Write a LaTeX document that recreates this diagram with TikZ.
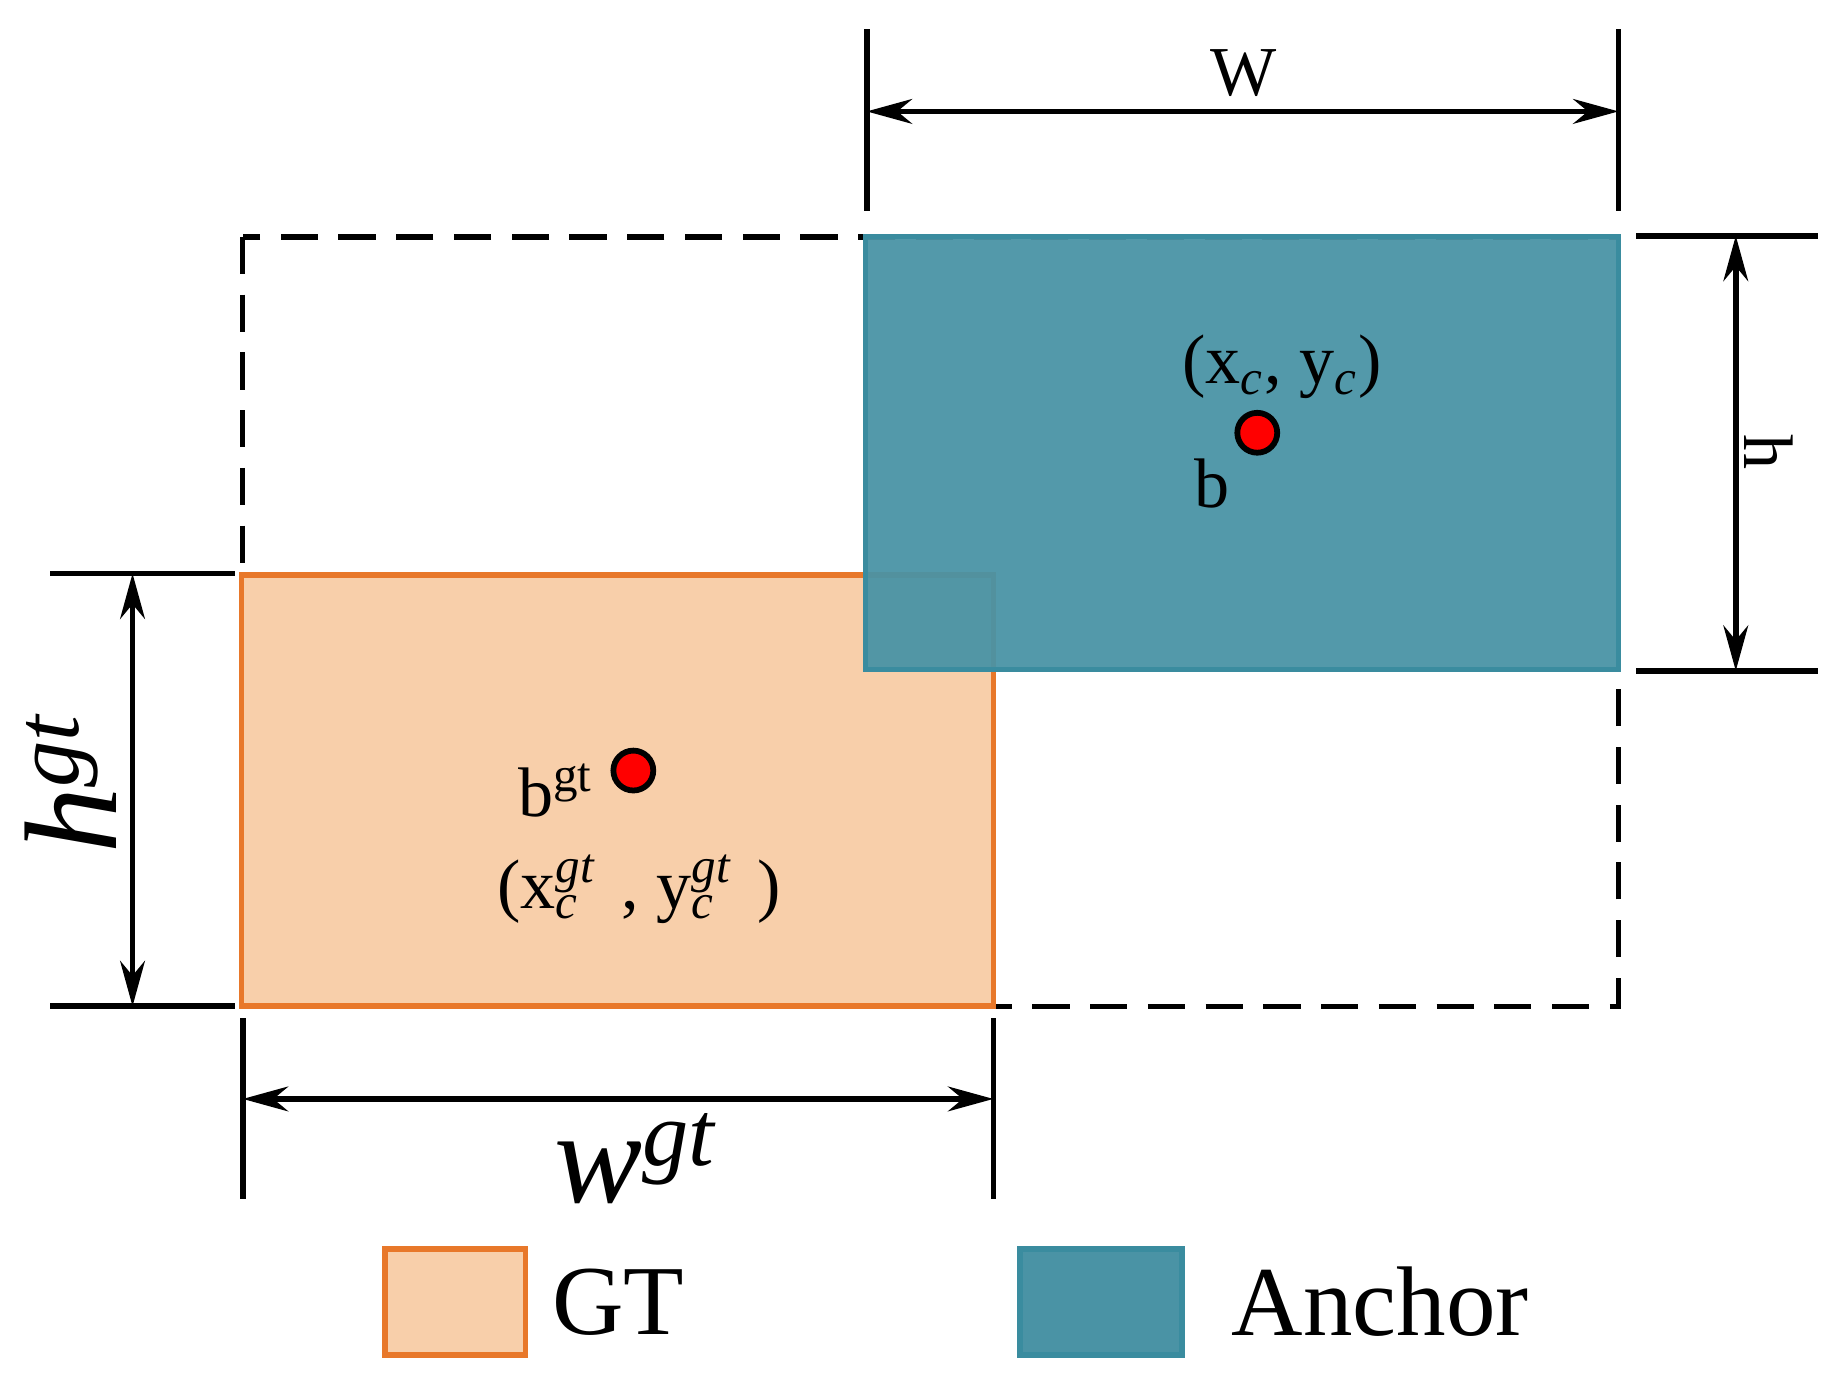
\documentclass[tikz,border=0pt]{standalone}
\usepackage{fontspec}
\setmainfont{Liberation Serif}
\usetikzlibrary{arrows.meta}
\definecolor{gtfill}{HTML}{F8CFAA}
\definecolor{gtedge}{HTML}{E8782A}
\definecolor{anfill}{HTML}{4A93A5}
\definecolor{anedge}{HTML}{3A8C9F}
\newcommand{\subsup}[2]{\rlap{\textsuperscript{#2}}\textsubscript{#1}}
\begin{document}
\begin{tikzpicture}[x=0.01cm,y=-0.01cm,
  dim/.style={line width=1.4pt},
  arr/.style={line width=1.4pt,{Stealth[length=11pt,width=6pt]}-{Stealth[length=11pt,width=6pt]}},
  dot/.style={circle,fill=red,draw=black,line width=1.4pt,minimum size=0.34cm,inner sep=0pt},
  lbl/.style={font=\fontsize{17}{20}\selectfont,inner sep=0pt}]
\useasboundingbox (0,0) rectangle (1568,1176);
\draw[line width=1.3pt,dash pattern=on 9pt off 5pt] (207,202) rectangle (1380,858);
\draw[fill=gtfill,draw=gtedge,line width=1.4pt] (206,490) rectangle (847,858);
\draw[fill=anfill,draw=anedge,line width=1.2pt,fill opacity=0.95] (738,202) rectangle (1380,571);
% W dimension
\coordinate (w1) at (739,25); \coordinate (w1b) at (739,180);
\coordinate (w2) at (1380,25); \coordinate (w2b) at (1380,180);
\draw[dim] (w1)--(w1b); \draw[dim] (w2)--(w2b);
\coordinate (wa) at (739,95); \coordinate (wb) at (1380,95);
\draw[arr] (wa)--(wb);
\node[lbl] (W) at (1060,62) {W};
% h dimension
\coordinate (h1) at (1395,201); \coordinate (h1b) at (1550,201);
\coordinate (h2) at (1395,572); \coordinate (h2b) at (1550,572);
\draw[dim] (h1)--(h1b); \draw[dim] (h2)--(h2b);
\coordinate (ha) at (1480,201); \coordinate (hb) at (1480,572);
\draw[arr] (ha)--(hb);
\node[lbl,rotate=-90] (H) at (1508,385) {h};
% hgt dimension
\coordinate (g1) at (43,489); \coordinate (g1b) at (200,489);
\coordinate (g2) at (43,858); \coordinate (g2b) at (200,858);
\draw[dim] (g1)--(g1b); \draw[dim] (g2)--(g2b);
\coordinate (ga) at (113,489); \coordinate (gb) at (113,858);
\draw[arr] (ga)--(gb);
\node[rotate=90,inner sep=0pt,font=\fontsize{32}{36}\selectfont\itshape] (HG) at (60,668) {h\textsuperscript{gt}};
% wgt dimension
\coordinate (v1) at (207,868); \coordinate (v1b) at (207,1022);
\coordinate (v2) at (847,868); \coordinate (v2b) at (847,1022);
\draw[dim] (v1)--(v1b); \draw[dim] (v2)--(v2b);
\coordinate (va) at (207,937); \coordinate (vb) at (847,937);
\draw[arr] (va)--(vb);
\node[inner sep=0pt,font=\fontsize{32}{36}\selectfont\itshape] (WG) at (542,988) {w\textsuperscript{gt}};
% points
\node[dot] (b) at (1072,369) {};
\node[dot] (bgt) at (540,657) {};
\node[lbl] (lc) at (1093,313) {(x\textsubscript{\textit{c}}, y\textsubscript{\textit{c}})};
\node[lbl] (lb) at (1033,412) {b};
\node[lbl] (lbg) at (474,674) {b\textsuperscript{gt}};
\node[lbl] (lcg) at (545,758) {(x\subsup{\textit{c}}{\textit{gt}}\hspace{0.6em}, y\subsup{\textit{c}}{\textit{gt}}\hspace{0.6em})};
% legend
\node[draw=gtedge,fill=gtfill,line width=1.4pt,minimum width=1.2cm,minimum height=0.9cm,inner sep=0pt] (lg) at (388,1110) {};
\node[inner sep=0pt,font=\fontsize{24}{28}\selectfont] (tg) at (527,1110) {GT};
\node[draw=anedge,fill=anfill,line width=1.4pt,minimum width=1.38cm,minimum height=0.9cm,inner sep=0pt] (la) at (939,1110) {};
\node[inner sep=0pt,font=\fontsize{24}{28}\selectfont] (ta) at (1177,1110) {Anchor};
\end{tikzpicture}
\end{document}
